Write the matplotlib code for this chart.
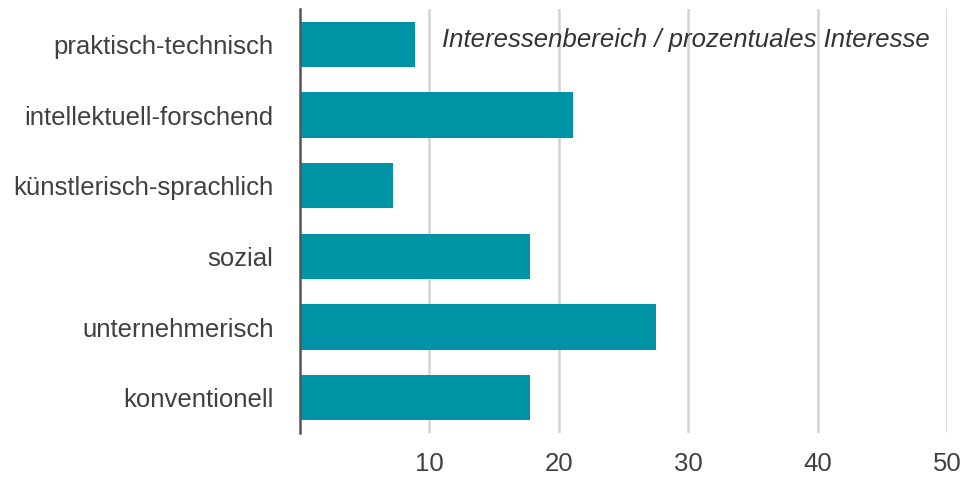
import matplotlib.pyplot as plt

plt.rcParams['font.family'] = ['Liberation Sans', 'DejaVu Sans']

# Interessenbereiche und Werte (%)
categories = ["praktisch-technisch", "intellektuell-forschend", "künstlerisch-sprachlich",
              "sozial", "unternehmerisch", "konventionell"]
values = [8.9, 21.1, 7.2, 17.8, 27.5, 17.8]
xticks = [10, 20, 30, 40, 50]

bar_color = '#0092a5'
text_color = '#404040'

fig = plt.figure(figsize=(9.61, 4.79), dpi=100)
ax = fig.add_axes([0.3122, 0.096, 0.6733, 0.885])

ypos = list(range(len(categories)))
ax.barh(ypos, values, height=0.64, color=bar_color, zorder=3)

ax.set_xlim(0, 50)
ax.set_ylim(len(categories) - 0.5, -0.5)
ax.set_yticks(ypos)
ax.set_yticklabels(categories, fontsize=18.5, color=text_color)
ax.set_xticks(xticks)
ax.set_xticklabels([str(t) for t in xticks], fontsize=18.5, color=text_color)
ax.tick_params(axis='both', length=0)
ax.tick_params(axis='y', pad=19)
ax.tick_params(axis='x', pad=14)

ax.grid(axis='x', color='#d4d4d4', linewidth=1.8, zorder=0)
for s in ['top', 'right', 'bottom']:
    ax.spines[s].set_visible(False)
ax.spines['left'].set_color('#555555')
ax.spines['left'].set_linewidth(1.8)
ax.spines['left'].set_zorder(4)

ax.text(0.2195, 0.927, "Interessenbereich / prozentuales Interesse",
        transform=ax.transAxes, fontsize=18.5, style='italic',
        color='#333333', va='center', ha='left', zorder=5)

fig.savefig("out.png", dpi=100)
